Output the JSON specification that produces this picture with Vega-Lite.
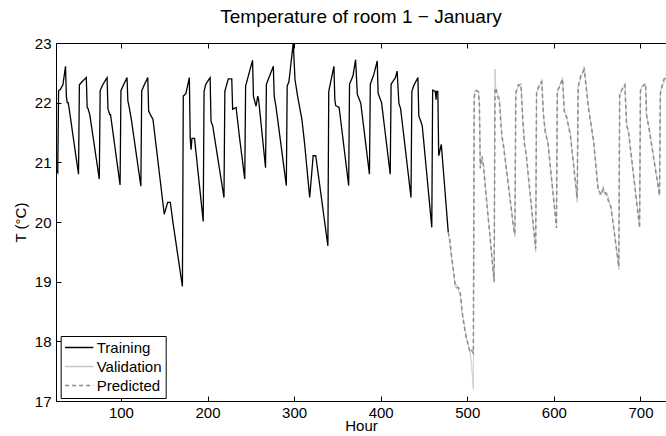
{
"$schema":"https://vega.github.io/schema/vega-lite/v6.json",
"width":610,"height":358,
"autosize":{"type":"none"},
"padding":{"left":56,"top":43,"right":0,"bottom":35},
"background":"white",
"config":{"view":{"stroke":null},"font":"Liberation Sans",
"axis":{"domainColor":"black","tickColor":"black","labelColor":"black","titleColor":"black","labelFontSize":15,"titleFontSize":15,"titleFontWeight":"normal","grid":false,"tickSize":-5,"labelFont":"Liberation Sans","titleFont":"Liberation Sans","domainWidth":1,"tickWidth":1,"labelPadding":10},
"legend":{"strokeColor":"black","fillColor":"white","padding":4,"symbolType":"M-2.5,0H2.5","symbolSize":128,"symbolStrokeWidth":1.5,"symbolOffset":7,"labelOffset":10,"labelFontSize":15,"labelFont":"Liberation Sans","labelColor":"black","rowPadding":3}},
"title":{"text":"Temperature of room 1 − January","fontSize":19,"fontWeight":"normal","offset":9,"color":"black","font":"Liberation Sans"},
"data":{"values":[
{"h":25,"T":20.88,"s":"Training"},{"h":27,"T":20.83,"s":"Training"},{"h":28,"T":22.2,"s":"Training"},{"h":30,"T":22.22,"s":"Training"},{"h":33,"T":22.3,"s":"Training"},{"h":36,"T":22.61,"s":"Training"},{"h":37,"T":22.1,"s":"Training"},{"h":38,"T":22.0,"s":"Training"},{"h":39,"T":22.0,"s":"Training"},{"h":40,"T":21.92,"s":"Training"},{"h":51,"T":20.8,"s":"Training"},
{"h":52,"T":22.3,"s":"Training"},{"h":55,"T":22.35,"s":"Training"},{"h":60,"T":22.42,"s":"Training"},{"h":61,"T":21.92,"s":"Training"},{"h":62,"T":21.9,"s":"Training"},{"h":64,"T":21.8,"s":"Training"},{"h":75,"T":20.72,"s":"Training"},
{"h":76,"T":22.2,"s":"Training"},{"h":79,"T":22.3,"s":"Training"},{"h":84,"T":22.42,"s":"Training"},{"h":85,"T":21.9,"s":"Training"},{"h":87,"T":21.8,"s":"Training"},{"h":88,"T":21.8,"s":"Training"},{"h":99,"T":20.62,"s":"Training"},
{"h":100,"T":22.2,"s":"Training"},{"h":103,"T":22.3,"s":"Training"},{"h":107,"T":22.42,"s":"Training"},{"h":108,"T":22.03,"s":"Training"},{"h":110,"T":21.89,"s":"Training"},{"h":112,"T":21.72,"s":"Training"},{"h":123,"T":20.6,"s":"Training"},
{"h":124,"T":22.2,"s":"Training"},{"h":127,"T":22.3,"s":"Training"},{"h":131,"T":22.42,"s":"Training"},{"h":132,"T":21.86,"s":"Training"},{"h":134,"T":21.8,"s":"Training"},{"h":137,"T":21.72,"s":"Training"},{"h":150,"T":20.13,"s":"Training"},{"h":154,"T":20.33,"s":"Training"},{"h":157,"T":20.33,"s":"Training"},{"h":160,"T":20.0,"s":"Training"},{"h":171,"T":18.92,"s":"Training"},
{"h":172,"T":22.11,"s":"Training"},{"h":175,"T":22.15,"s":"Training"},{"h":179,"T":22.42,"s":"Training"},{"h":180,"T":21.41,"s":"Training"},{"h":181,"T":21.21,"s":"Training"},{"h":182,"T":21.4,"s":"Training"},{"h":185,"T":21.4,"s":"Training"},{"h":195,"T":20.01,"s":"Training"},
{"h":196,"T":22.19,"s":"Training"},{"h":198,"T":22.31,"s":"Training"},{"h":203,"T":22.42,"s":"Training"},{"h":204,"T":21.69,"s":"Training"},{"h":206,"T":21.61,"s":"Training"},{"h":219,"T":20.41,"s":"Training"},
{"h":220,"T":22.19,"s":"Training"},{"h":224,"T":22.4,"s":"Training"},{"h":228,"T":22.4,"s":"Training"},{"h":229,"T":21.89,"s":"Training"},{"h":233,"T":21.92,"s":"Training"},{"h":237,"T":21.41,"s":"Training"},{"h":243,"T":20.72,"s":"Training"},
{"h":244,"T":22.28,"s":"Training"},{"h":252,"T":22.71,"s":"Training"},{"h":253,"T":22.11,"s":"Training"},{"h":256,"T":21.94,"s":"Training"},{"h":258,"T":22.11,"s":"Training"},{"h":259,"T":22.05,"s":"Training"},{"h":267,"T":20.91,"s":"Training"},
{"h":268,"T":22.31,"s":"Training"},{"h":276,"T":22.61,"s":"Training"},{"h":277,"T":22.11,"s":"Training"},{"h":279,"T":21.94,"s":"Training"},{"h":291,"T":20.61,"s":"Training"},
{"h":292,"T":22.28,"s":"Training"},{"h":294,"T":22.35,"s":"Training"},{"h":299,"T":23.0,"s":"Training"},{"h":301,"T":22.39,"s":"Training"},{"h":304,"T":22.11,"s":"Training"},{"h":309,"T":21.72,"s":"Training"},{"h":312,"T":21.33,"s":"Training"},{"h":318,"T":20.41,"s":"Training"},{"h":322,"T":21.11,"s":"Training"},{"h":325,"T":21.11,"s":"Training"},{"h":339,"T":19.6,"s":"Training"},
{"h":340,"T":22.19,"s":"Training"},{"h":342,"T":22.33,"s":"Training"},{"h":346,"T":22.61,"s":"Training"},{"h":347,"T":22.06,"s":"Training"},{"h":348,"T":21.95,"s":"Training"},{"h":352,"T":21.92,"s":"Training"},{"h":363,"T":20.61,"s":"Training"},
{"h":364,"T":22.31,"s":"Training"},{"h":368,"T":22.45,"s":"Training"},{"h":371,"T":22.72,"s":"Training"},{"h":373,"T":22.14,"s":"Training"},{"h":377,"T":21.99,"s":"Training"},{"h":387,"T":20.8,"s":"Training"},
{"h":388,"T":22.31,"s":"Training"},{"h":392,"T":22.47,"s":"Training"},{"h":396,"T":22.7,"s":"Training"},{"h":397,"T":22.16,"s":"Training"},{"h":401,"T":22.0,"s":"Training"},{"h":411,"T":20.8,"s":"Training"},
{"h":412,"T":22.31,"s":"Training"},{"h":417,"T":22.42,"s":"Training"},{"h":419,"T":22.53,"s":"Training"},{"h":421,"T":21.99,"s":"Training"},{"h":423,"T":21.9,"s":"Training"},{"h":435,"T":20.41,"s":"Training"},
{"h":436,"T":22.19,"s":"Training"},{"h":438,"T":22.28,"s":"Training"},{"h":443,"T":22.42,"s":"Training"},{"h":444,"T":21.78,"s":"Training"},{"h":446,"T":21.7,"s":"Training"},{"h":448,"T":21.61,"s":"Training"},{"h":459,"T":19.91,"s":"Training"},
{"h":460,"T":22.21,"s":"Training"},{"h":463,"T":22.19,"s":"Training"},{"h":464,"T":22.05,"s":"Training"},{"h":464.5,"T":22.19,"s":"Training"},{"h":466,"T":22.19,"s":"Training"},{"h":467,"T":21.11,"s":"Training"},{"h":470,"T":21.3,"s":"Training"},{"h":478,"T":19.83,"s":"Training"},
{"h":478,"T":19.83,"s":"Validation"},{"h":480,"T":19.6,"s":"Validation"},{"h":482,"T":19.38,"s":"Validation"},{"h":484,"T":19.16,"s":"Validation"},{"h":486,"T":18.9,"s":"Validation"},{"h":488,"T":18.95,"s":"Validation"},{"h":490,"T":18.85,"s":"Validation"},{"h":492,"T":18.77,"s":"Validation"},{"h":494,"T":18.49,"s":"Validation"},{"h":497,"T":18.25,"s":"Validation"},{"h":499,"T":18.04,"s":"Validation"},{"h":501,"T":17.93,"s":"Validation"},{"h":503,"T":17.85,"s":"Validation"},{"h":505,"T":17.6,"s":"Validation"},{"h":507,"T":17.2,"s":"Validation"},
{"h":508,"T":22.17,"s":"Validation"},{"h":510,"T":22.22,"s":"Validation"},{"h":513,"T":22.2,"s":"Validation"},{"h":514,"T":22.0,"s":"Validation"},{"h":515,"T":20.95,"s":"Validation"},{"h":517,"T":21.05,"s":"Validation"},{"h":519,"T":20.95,"s":"Validation"},{"h":521,"T":20.6,"s":"Validation"},{"h":526,"T":19.77,"s":"Validation"},{"h":531,"T":18.99,"s":"Validation"},
{"h":532,"T":22.56,"s":"Validation"},{"h":533,"T":22.2,"s":"Validation"},{"h":535,"T":22.15,"s":"Validation"},{"h":537,"T":22.1,"s":"Validation"},{"h":539,"T":21.67,"s":"Validation"},{"h":540,"T":21.4,"s":"Validation"},{"h":542,"T":21.3,"s":"Validation"},{"h":554,"T":19.83,"s":"Validation"},{"h":555,"T":19.75,"s":"Validation"},
{"h":556,"T":22.2,"s":"Validation"},{"h":559,"T":22.25,"s":"Validation"},{"h":562,"T":22.33,"s":"Validation"},{"h":564,"T":21.72,"s":"Validation"},{"h":566,"T":21.35,"s":"Validation"},{"h":568,"T":21.1,"s":"Validation"},{"h":579,"T":19.5,"s":"Validation"},
{"h":580,"T":22.17,"s":"Validation"},{"h":583,"T":22.25,"s":"Validation"},{"h":586,"T":22.39,"s":"Validation"},{"h":588,"T":21.78,"s":"Validation"},{"h":590,"T":21.55,"s":"Validation"},{"h":593,"T":21.33,"s":"Validation"},{"h":603,"T":19.94,"s":"Validation"},
{"h":604,"T":22.17,"s":"Validation"},{"h":607,"T":22.3,"s":"Validation"},{"h":610,"T":22.42,"s":"Validation"},{"h":612,"T":21.89,"s":"Validation"},{"h":615,"T":21.72,"s":"Validation"},{"h":619,"T":21.5,"s":"Validation"},{"h":627,"T":20.33,"s":"Validation"},
{"h":628,"T":22.28,"s":"Validation"},{"h":631,"T":22.4,"s":"Validation"},{"h":635,"T":22.61,"s":"Validation"},{"h":640,"T":21.94,"s":"Validation"},{"h":646,"T":21.33,"s":"Validation"},{"h":651,"T":20.6,"s":"Validation"},{"h":653,"T":20.45,"s":"Validation"},{"h":655,"T":20.5,"s":"Validation"},{"h":657,"T":20.6,"s":"Validation"},{"h":659,"T":20.45,"s":"Validation"},{"h":661,"T":20.5,"s":"Validation"},{"h":663,"T":20.4,"s":"Validation"},{"h":666,"T":20.22,"s":"Validation"},{"h":670,"T":19.83,"s":"Validation"},{"h":675,"T":19.2,"s":"Validation"},
{"h":676,"T":22.11,"s":"Validation"},{"h":680,"T":22.28,"s":"Validation"},{"h":682,"T":22.31,"s":"Validation"},{"h":684,"T":21.67,"s":"Validation"},{"h":686,"T":21.5,"s":"Validation"},{"h":699,"T":19.94,"s":"Validation"},
{"h":700,"T":22.22,"s":"Validation"},{"h":703,"T":22.3,"s":"Validation"},{"h":706,"T":22.3,"s":"Validation"},{"h":707,"T":21.78,"s":"Validation"},{"h":710,"T":21.6,"s":"Validation"},{"h":722,"T":20.44,"s":"Validation"},
{"h":723,"T":22.2,"s":"Validation"},{"h":726,"T":22.3,"s":"Validation"},{"h":729,"T":22.4,"s":"Validation"},{"h":732,"T":22.55,"s":"Validation"},
{"h":478,"T":19.83,"s":"Predicted"},{"h":480,"T":19.7,"s":"Predicted"},{"h":482,"T":19.4,"s":"Predicted"},{"h":484,"T":19.2,"s":"Predicted"},{"h":486,"T":18.95,"s":"Predicted"},{"h":488,"T":18.9,"s":"Predicted"},{"h":490,"T":18.9,"s":"Predicted"},{"h":492,"T":18.8,"s":"Predicted"},{"h":494,"T":18.5,"s":"Predicted"},{"h":497,"T":18.2,"s":"Predicted"},{"h":499,"T":18.05,"s":"Predicted"},{"h":501,"T":17.95,"s":"Predicted"},{"h":503,"T":17.82,"s":"Predicted"},{"h":505,"T":17.85,"s":"Predicted"},{"h":507,"T":17.8,"s":"Predicted"},
{"h":508,"T":22.1,"s":"Predicted"},{"h":510,"T":22.2,"s":"Predicted"},{"h":513,"T":22.18,"s":"Predicted"},{"h":514,"T":21.95,"s":"Predicted"},{"h":515,"T":20.9,"s":"Predicted"},{"h":517,"T":21.1,"s":"Predicted"},{"h":519,"T":20.9,"s":"Predicted"},{"h":521,"T":20.55,"s":"Predicted"},{"h":526,"T":19.8,"s":"Predicted"},{"h":531,"T":19.0,"s":"Predicted"},
{"h":532,"T":22.2,"s":"Predicted"},{"h":533,"T":22.25,"s":"Predicted"},{"h":535,"T":22.1,"s":"Predicted"},{"h":537,"T":22.05,"s":"Predicted"},{"h":539,"T":21.6,"s":"Predicted"},{"h":540,"T":21.45,"s":"Predicted"},{"h":542,"T":21.25,"s":"Predicted"},{"h":554,"T":19.85,"s":"Predicted"},{"h":555,"T":19.8,"s":"Predicted"},
{"h":556,"T":22.15,"s":"Predicted"},{"h":559,"T":22.3,"s":"Predicted"},{"h":562,"T":22.3,"s":"Predicted"},{"h":564,"T":21.75,"s":"Predicted"},{"h":566,"T":21.3,"s":"Predicted"},{"h":568,"T":21.15,"s":"Predicted"},{"h":579,"T":19.55,"s":"Predicted"},
{"h":580,"T":22.15,"s":"Predicted"},{"h":583,"T":22.3,"s":"Predicted"},{"h":586,"T":22.35,"s":"Predicted"},{"h":588,"T":21.8,"s":"Predicted"},{"h":590,"T":21.5,"s":"Predicted"},{"h":593,"T":21.35,"s":"Predicted"},{"h":603,"T":19.9,"s":"Predicted"},
{"h":604,"T":22.2,"s":"Predicted"},{"h":607,"T":22.28,"s":"Predicted"},{"h":610,"T":22.4,"s":"Predicted"},{"h":612,"T":21.85,"s":"Predicted"},{"h":615,"T":21.75,"s":"Predicted"},{"h":619,"T":21.45,"s":"Predicted"},{"h":627,"T":20.4,"s":"Predicted"},
{"h":628,"T":22.25,"s":"Predicted"},{"h":631,"T":22.45,"s":"Predicted"},{"h":635,"T":22.55,"s":"Predicted"},{"h":640,"T":21.9,"s":"Predicted"},{"h":646,"T":21.35,"s":"Predicted"},{"h":651,"T":20.55,"s":"Predicted"},{"h":653,"T":20.5,"s":"Predicted"},{"h":655,"T":20.45,"s":"Predicted"},{"h":657,"T":20.55,"s":"Predicted"},{"h":659,"T":20.5,"s":"Predicted"},{"h":661,"T":20.45,"s":"Predicted"},{"h":663,"T":20.35,"s":"Predicted"},{"h":666,"T":20.25,"s":"Predicted"},{"h":670,"T":19.8,"s":"Predicted"},{"h":675,"T":19.25,"s":"Predicted"},
{"h":676,"T":22.15,"s":"Predicted"},{"h":680,"T":22.25,"s":"Predicted"},{"h":682,"T":22.3,"s":"Predicted"},{"h":684,"T":21.6,"s":"Predicted"},{"h":686,"T":21.55,"s":"Predicted"},{"h":699,"T":19.9,"s":"Predicted"},
{"h":700,"T":22.2,"s":"Predicted"},{"h":703,"T":22.28,"s":"Predicted"},{"h":706,"T":22.32,"s":"Predicted"},{"h":707,"T":21.8,"s":"Predicted"},{"h":710,"T":21.55,"s":"Predicted"},{"h":722,"T":20.45,"s":"Predicted"},
{"h":723,"T":22.15,"s":"Predicted"},{"h":726,"T":22.35,"s":"Predicted"},{"h":729,"T":22.45,"s":"Predicted"},{"h":732,"T":22.5,"s":"Predicted"}
]},
"encoding":{
"y":{"field":"T","type":"quantitative","scale":{"domain":[17,23],"nice":false,"zero":false},"axis":{"values":[17,18,19,20,21,22,23],"title":"T (°C)","titlePadding":6}},
"color":{"field":"s","type":"nominal","scale":{"domain":["Training","Validation","Predicted"],"range":["#000000","#c4c4c4","#8c8c8c"]},"legend":{"title":null,"orient":"none","legendX":4.7,"legendY":293}},
"strokeDash":{"field":"s","type":"nominal","scale":{"domain":["Training","Validation","Predicted"],"range":[[1,0],[1,0],[4,3]]},"legend":{"title":null,"orient":"none","legendX":4.7,"legendY":293}}
},
"layer":[
{"transform":[{"filter":"datum.s === 'Training'"}],"mark":{"type":"line","clip":true,"strokeWidth":1.3},
 "encoding":{"x":{"field":"h","type":"quantitative","scale":{"domain":[25,729.5],"nice":false,"zero":false},"axis":{"values":[100,200,300,400,500,600,700],"title":"Hour","titlePadding":-2,"labelPadding":9}}}},
{"transform":[{"filter":"datum.s === 'Validation'"}],"mark":{"type":"line","clip":true,"strokeWidth":1},
 "encoding":{"x":{"field":"h","type":"quantitative","axis":null}}},
{"transform":[{"filter":"datum.s === 'Predicted'"}],"mark":{"type":"line","clip":true,"strokeWidth":1.5},
 "encoding":{"x":{"field":"h","type":"quantitative","axis":{"orient":"top","values":[100,200,300,400,500,600,700],"labels":false,"title":null}}}}
],
"resolve":{"axis":{"x":"independent"}}
}
